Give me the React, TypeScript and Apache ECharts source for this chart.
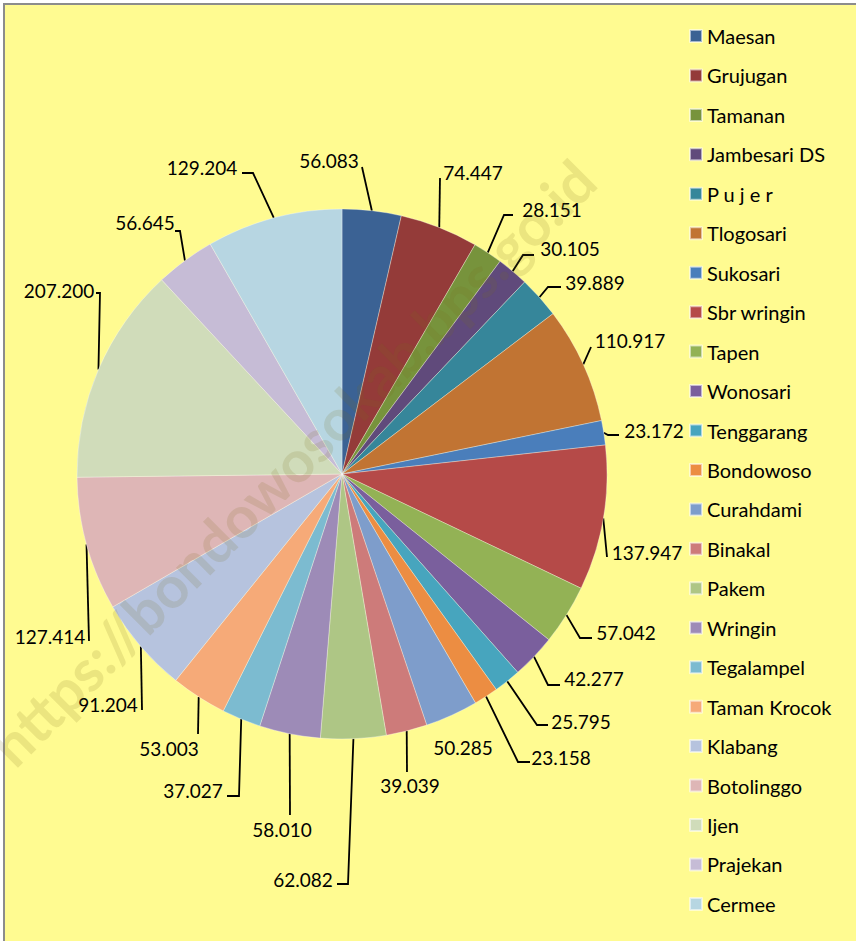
import { useEffect, useRef } from 'react';
import * as echarts from 'echarts';

const districts = [
  'Maesan', 'Grujugan', 'Tamanan', 'Jambesari DS', 'P u j e r', 'Tlogosari',
  'Sukosari', 'Sbr wringin', 'Tapen', 'Wonosari', 'Tenggarang', 'Bondowoso',
  'Curahdami', 'Binakal', 'Pakem', 'Wringin', 'Tegalampel', 'Taman Krocok',
  'Klabang', 'Botolinggo', 'Ijen', 'Prajekan', 'Cermee',
];

const values = [
  56.083, 74.447, 28.151, 30.105, 39.889, 110.917,
  23.172, 137.947, 57.042, 42.277, 25.795, 23.158,
  50.285, 39.039, 62.082, 58.010, 37.027, 53.003,
  91.204, 127.414, 207.200, 56.645, 129.204,
];

const sliceColors = [
  '#3B6294', '#943B39', '#77933C', '#604A7B', '#36869A', '#C17433',
  '#4A7EBB', '#B54A48', '#93B255', '#7A5F9D', '#47A5BE', '#EC8D42',
  '#7E9DCB', '#CD7B7A', '#AEC685', '#9D8BB7', '#7CBBD0', '#F6AA78',
  '#B6C3DE', '#DEB6B6', '#D0DCBA', '#C6BCD6', '#B7D6E2',
];

const labelSpots: [number, number][] = [
  [329, 160], [473, 172], [552, 209], [570, 248], [595, 282], [630, 340],
  [654, 430], [647, 552], [626, 632], [594, 678], [581, 721], [561, 757],
  [463, 747], [410, 785], [303, 879], [282, 829], [193, 790], [169, 748],
  [108, 704], [50, 636], [59, 290], [145, 222], [202, 167],
];

const leaderBends: [number, number][][] = [
  [[362, 167]],
  [[440, 178]],
  [[504, 215], [513, 215]],
  [[523, 255], [534, 255]],
  [[548, 287], [561, 287]],
  [[591, 347]],
  [[608, 435], [619, 435]],
  [[607, 557]],
  [[580, 638], [592, 638]],
  [[548, 685], [560, 685]],
  [[537, 725], [548, 725]],
  [[518, 762], [530, 762]],
  [],
  [[407, 772]],
  [[348, 884], [337, 884]],
  [[290, 815]],
  [[239, 796], [227, 796]],
  [[198, 734]],
  [[142, 710]],
  [[89, 641]],
  [[100, 293], [96, 293]],
  [[180, 231], [175, 231]],
  [[253, 173], [242, 173]],
];

export default function App() {
  const ref = useRef<HTMLDivElement>(null);

  useEffect(() => {
    if (!ref.current) return;
    const chart = echarts.init(ref.current, undefined, { renderer: 'svg' });
    const font = 'Lato, "Noto Sans", sans-serif';

    const data = districts.map((name, i) => ({
      name,
      value: values[i],
      itemStyle: { color: sliceColors[i] },
      labelLine: { show: leaderBends[i].length > 0 },
    }));

    chart.setOption({
      animation: false,
      backgroundColor: '#ffffff',
      graphic: [
        {
          type: 'rect',
          z: 0,
          shape: { x: 4, y: 4, width: 900, height: 1000 },
          style: { fill: '#FFFB91', stroke: '#8C8C8C', lineWidth: 2 },
          silent: true,
        },
        {
          type: 'text',
          z: 100,
          x: 292,
          y: 462,
          rotation: Math.PI / 4,
          silent: true,
          style: {
            x: 0,
            y: 0,
            text: 'https://bondowosokab.bps.go.id',
            fontFamily: font,
            fontWeight: 'bold',
            fontSize: 58,
            fill: 'rgba(120, 110, 30, 0.15)',
            align: 'center',
            verticalAlign: 'middle',
          },
        },
      ],
      legend: {
        orient: 'vertical',
        left: 684,
        top: 21,
        itemWidth: 12,
        itemHeight: 12,
        itemGap: 19.45,
        icon: 'rect',
        textStyle: {
          fontFamily: font,
          fontSize: 20,
          color: '#000',
          lineHeight: 20,
        },
        data: districts,
      },
      series: [
        {
          type: 'pie',
          center: [342, 474],
          radius: 265,
          startAngle: 90,
          clockwise: true,
          avoidLabelOverlap: false,
          data,
          itemStyle: {
            borderColor: 'rgba(255,255,255,0.55)',
            borderWidth: 0.6,
          },
          label: {
            show: true,
            position: 'outside',
            fontFamily: font,
            fontSize: 19,
            color: '#000',
            formatter: (p: any) => Number(p.value).toFixed(3),
          },
          labelLine: {
            show: true,
            length: 10,
            length2: 10,
            lineStyle: { color: '#000', width: 1.8 },
          },
          emphasis: { disabled: true },
          labelLayout: (params: any) => {
            const i = params.dataIndex;
            const spot = labelSpots[i];
            const out: any = {
              x: spot[0],
              y: spot[1],
              align: 'center',
              verticalAlign: 'middle',
            };
            const edge = params.labelLinePoints && params.labelLinePoints[0];
            if (edge && leaderBends[i].length > 0) {
              out.labelLinePoints = [[edge[0], edge[1]], ...leaderBends[i]];
            }
            return out;
          },
        },
      ],
    });

    return () => chart.dispose();
  }, []);

  return (
    <div
      ref={ref}
      style={{ position: 'absolute', left: 0, top: 0, width: 856, height: 941 }}
    />
  );
}
